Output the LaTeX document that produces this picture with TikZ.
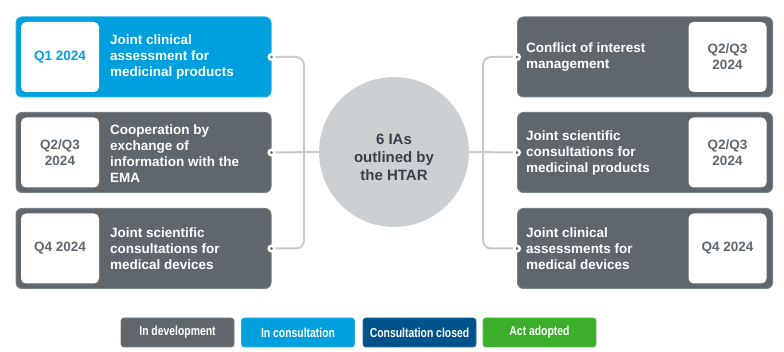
\documentclass[tikz,border=0pt]{standalone}
\usepackage{fontspec}
\setmainfont{Liberation Sans}
\newfontfamily\narrowsans[FakeStretch=0.8]{Liberation Sans}
\definecolor{iagray}{RGB}{95,103,109}
\definecolor{iablue}{RGB}{0,160,223}
\definecolor{ianavy}{RGB}{0,83,138}
\definecolor{iagreen}{RGB}{60,174,43}
\definecolor{iahub}{RGB}{205,208,211}
\definecolor{ialine}{RGB}{200,203,206}
\definecolor{iatext}{RGB}{55,65,74}
\begin{document}
\begin{tikzpicture}[x=1pt,y=-1pt,
  card/.style={rounded corners=6pt,minimum width=255pt,minimum height=80pt,fill=#1,draw=#1!85!white,line width=1pt},
  datebox/.style={rounded corners=5pt,fill=white,minimum width=78pt,minimum height=70pt,text=#1,align=center,
    font=\bfseries\fontsize{13.5}{16}\selectfont},
  desc/.style={anchor=west,inner sep=0pt,text=white,align=left,font=\bfseries\fontsize{13.5}{16}\selectfont},
  joint/.style={circle,fill=#1,draw=white,line width=2.5pt,inner sep=0pt,minimum size=5.5pt},
  wire/.style={draw=ialine,line width=2pt,rounded corners=8pt},
  chip/.style={rounded corners=3pt,fill=#1,draw=#1!85!white,line width=0.8pt,minimum width=113pt,minimum height=29pt,
    text=white,font=\narrowsans\bfseries\fontsize{13}{15}\selectfont}]
  \useasboundingbox (0,0) rectangle (784,352);
  % left column
  \node[card=iablue] (L1) at (143.5,57) {};
  \node[card=iagray] (L2) at (143.5,152.5) {};
  \node[card=iagray] (L3) at (143.5,248.5) {};
  \node[datebox=iablue] (Q1) at (60,57) {Q1 2024};
  \node[datebox=iagray] (Q2) at (60,152.5) {Q2/Q3\\2024};
  \node[datebox=iagray] (Q3) at (60,248.5) {Q4 2024};
  \node[desc] (T1) at (110,57) {Joint clinical\\assessment for\\medicinal products};
  \node[desc] (T2) at (110,153.5) {Cooperation by\\exchange of\\information with the\\EMA};
  \node[desc] (T3) at (110,249) {Joint scientific\\consultations for\\medical devices};
  % right column
  \node[card=iagray] (R1) at (645,57) {};
  \node[card=iagray] (R2) at (645,152.5) {};
  \node[card=iagray] (R3) at (645,248.5) {};
  \node[datebox=iagray] (Q4) at (727.5,57) {Q2/Q3\\2024};
  \node[datebox=iagray] (Q5) at (727.5,152.5) {Q2/Q3\\2024};
  \node[datebox=iagray] (Q6) at (727.5,248.5) {Q4 2024};
  \node[desc] (T4) at (526,57.5) {Conflict of interest\\management};
  \node[desc] (T5) at (526,153.5) {Joint scientific\\consultations for\\medicinal products};
  \node[desc] (T6) at (526,249) {Joint clinical\\assessments for\\medical devices};
  % hub
  \node[circle,fill=iahub,minimum size=150pt,inner sep=0pt] (hub) at (394,152) {};
  \node[text=iatext,align=center,font=\bfseries\fontsize{15}{18}\selectfont] (hubtext) at (394,157) {6 IAs\\outlined by\\the HTAR};
  \coordinate (lbus) at (304,152.5);
  \coordinate (rbus) at (483,152.5);
  % connectors
  \draw[wire] (L1.east) -| (lbus) |- (L3.east);
  \draw[wire] (L2.east) -- (hub.west);
  \draw[wire] (R1.west) -| (rbus) |- (R3.west);
  \draw[wire] (hub.east) -- (R2.west);
  \node[joint=iablue] (J1) at (L1.east) {};
  \node[joint=iagray] (J2) at (L2.east) {};
  \node[joint=iagray] (J3) at (L3.east) {};
  \node[joint=iagray] (J4) at (R1.west) {};
  \node[joint=iagray] (J5) at (R2.west) {};
  \node[joint=iagray] (J6) at (R3.west) {};
  % legend
  \node[chip=iagray] (K1) at (177.5,332.5) {In development};
  \node[chip=iablue] (K2) at (298,332.5) {In consultation};
  \node[chip=ianavy] (K3) at (419.5,332.5) {Consultation closed};
  \node[chip=iagreen] (K4) at (539.5,332.5) {Act adopted};
\end{tikzpicture}
\end{document}
